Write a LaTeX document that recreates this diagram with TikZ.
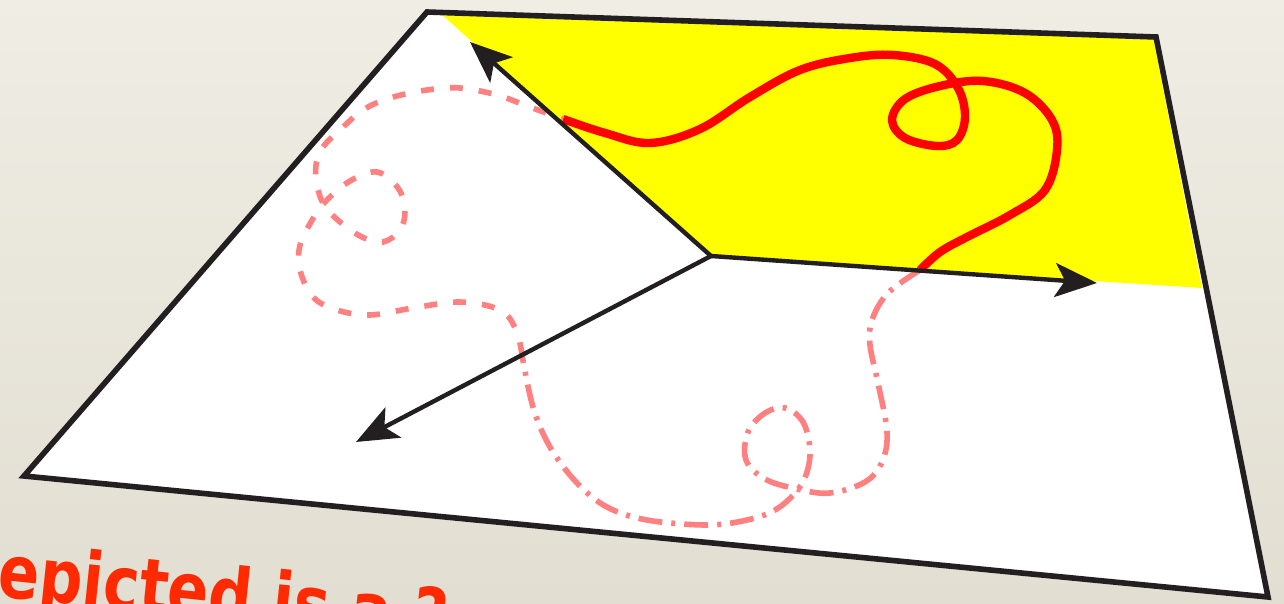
\documentclass[tikz,border=0pt]{standalone}
\usepackage{fontspec}
\setmainfont{DejaVu Sans}
\usepackage{graphicx}
\usetikzlibrary{arrows.meta}
\definecolor{bgtop}{RGB}{239,237,228}
\definecolor{bgbot}{RGB}{226,222,210}
\definecolor{planeyellow}{RGB}{255,255,0}
\definecolor{curvered}{RGB}{255,0,0}
\definecolor{curvepink}{RGB}{255,128,128}
\definecolor{chalk}{RGB}{255,42,0}
\definecolor{ink}{RGB}{35,31,32}
\tikzset{
  edgeline/.style={draw=ink, line width=2.8pt, line join=miter},
  vecarrow/.style={draw=ink, line width=2.2pt, -{Stealth[length=21pt,width=17pt,inset=5pt]}},
  solidpart/.style={draw=curvered, line width=4.2pt},
  dashpart/.style={draw=curvepink, line width=2.8pt, dash pattern=on 6.5pt off 8pt},
  dotpart/.style={draw=curvepink, line width=2.8pt, dash pattern=on 12pt off 4.5pt on 2pt off 4.5pt},
}
\begin{document}
\begin{tikzpicture}[x=0.5pt,y=-0.5pt]
\useasboundingbox (0,0) rectangle (1284,604);
\shade[top color=bgtop, bottom color=bgbot] (0,0) rectangle (1284,604);
% plane
\coordinate (P1) at (427,12);
\coordinate (P2) at (1156,37);
\coordinate (P3) at (1268,597);
\coordinate (P4) at (24,476);
\coordinate (C) at (711,256);
\coordinate (T1) at (470,42);
\coordinate (T2) at (1097,283);
\coordinate (T3) at (356,442);
\fill[white] (P1) -- (P2) -- (P3) -- (P4) -- cycle;
\fill[planeyellow] (C) -- (440,13) -- (1153,37) -- (1202,288) -- cycle;
% curve: solid part (yellow sector)
\draw[solidpart] plot[smooth, tension=0.6] coordinates {
 (563,119) (605,133) (650,143) (700,129) (750,97) (800,70) (850,58) (893,55)
 (935,64) (958,88) (965,117) (957,140) (937,146) (905,138) (892,120) (905,99)
 (940,86) (983,81) (1025,93) (1052,120) (1057,150) (1045,190) (1010,215)
 (967,237) (940,252) (920,270)};
% dash-dot part (lower sector)
\draw[dotpart] plot[smooth, tension=0.6] coordinates {
 (920,270) (888,293) (872,320) (870,345) (878,383) (887,432) (882,462) (865,482)
 (830,493) (797,489) (765,479) (746,460) (748,432) (765,413) (785,408) (803,422)
 (810,450) (806,475) (795,493) (775,510) (747,520) (707,525) (647,520) (607,507)
 (577,483) (550,447) (533,407) (522,355)};
% dashed part (left sector)
\draw[dashpart] plot[smooth, tension=0.6] coordinates {
 (522,355) (516,330) (500,310) (460,302) (413,308) (370,315) (337,310) (313,297)
 (300,270) (300,245) (311,222) (325,202) (350,181) (377,172) (398,188) (405,210)
 (400,230) (383,242) (362,237) (340,222) (324,205) (317,185) (316,165) (323,147)
 (340,130) (363,110) (390,98) (427,90) (460,88) (497,95) (527,106) (563,119)};
% vectors
\draw[vecarrow] (C) -- (T1);
\draw[vecarrow] (C) -- (T2);
\draw[vecarrow] (C) -- (T3);
% border
\draw[edgeline] (P1) -- (P2) -- (P3) -- (P4) -- cycle;
% caption
\begin{scope}
\clip (0,0) rectangle (1284,604);
\node[text=chalk, rotate=-6, anchor=base west, inner sep=0pt] (caption) at (-4,596)
  {\scalebox{0.82}[1]{\fontsize{37}{40}\selectfont\bfseries epicted is a ?}};
\end{scope}
\end{tikzpicture}
\end{document}
